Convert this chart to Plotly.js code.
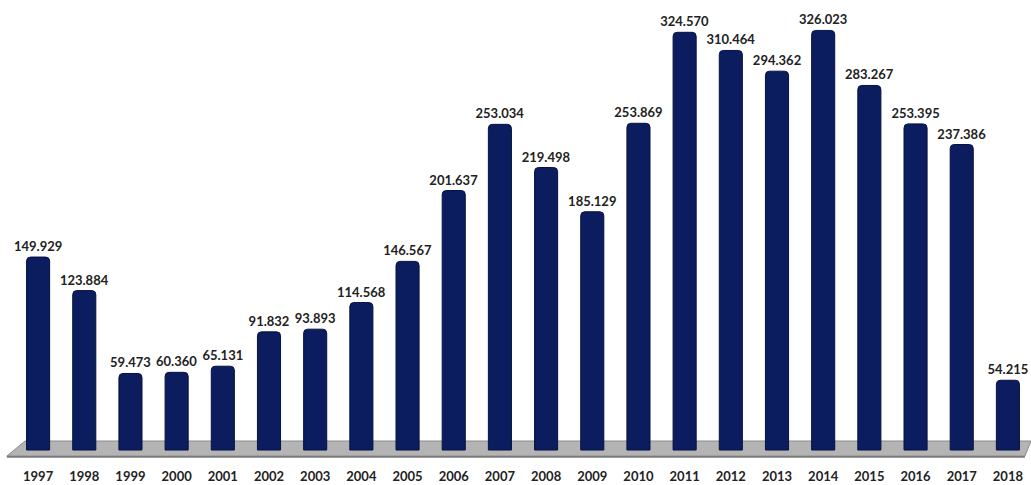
<!DOCTYPE html>
<html>
<head>
<meta charset="utf-8">
<script src="https://cdn.plot.ly/plotly-3.0.1.min.js"></script>
<style>html,body{margin:0;padding:0;background:#fff;}#chart{width:1031px;height:485px;}</style>
</head>
<body>
<div id="chart"></div>
<script>
var years = ['1997','1998','1999','2000','2001','2002','2003','2004','2005','2006','2007','2008','2009','2010','2011','2012','2013','2014','2015','2016','2017','2018'];
var values = [149929,123884,59473,60360,65131,91832,93893,114568,146567,201637,253034,219498,185129,253869,324570,310464,294362,326023,283267,253395,237386,54215];

var labelFont = {family: 'Lato', size: 13, color: '#222222', weight: 'bold'};

var trace = {
  type: 'bar',
  x: years,
  y: values,
  marker: {color: '#0b1d5e', line: {color: '#061240', width: 1}, cornerradius: 4},
  texttemplate: '%{y:,d}',
  textposition: 'outside',
  constraintext: 'none',
  cliponaxis: false,
  textfont: labelFont,
  outsidetextfont: labelFont,
  hoverinfo: 'skip'
};

var layout = {
  width: 1031, height: 485,
  margin: {l: 15, r: 0, t: 10, b: 27},
  separators: ',.',
  paper_bgcolor: '#ffffff', plot_bgcolor: '#ffffff',
  bargap: 0.5,
  showlegend: false,
  xaxis: {
    type: 'category', showgrid: false, zeroline: false, showline: false, ticks: '',
    tickfont: labelFont,
    ticklabelstandoff: 9
  },
  yaxis: {range: [-6200, 341900], visible: false, showgrid: false, zeroline: false},
  shapes: [
    {type: 'path', xref: 'paper', yref: 'y', layer: 'below',
     path: 'M -0.008,-4700 L 0.010,7000 L 1.0,7000 L 0.994,-4700 Z',
     fillcolor: '#b4b4b4', line: {color: '#8a8a8a', width: 1}},
    {type: 'path', xref: 'paper', yref: 'y', layer: 'below',
     path: 'M -0.008,-4700 L 0.994,-4700 L 0.994,-6000 L -0.008,-6000 Z',
     fillcolor: '#7a7a7a', line: {width: 0}}
  ]
};

Plotly.newPlot('chart', [trace], layout, {displayModeBar: false, staticPlot: true});
</script>
</body>
</html>
